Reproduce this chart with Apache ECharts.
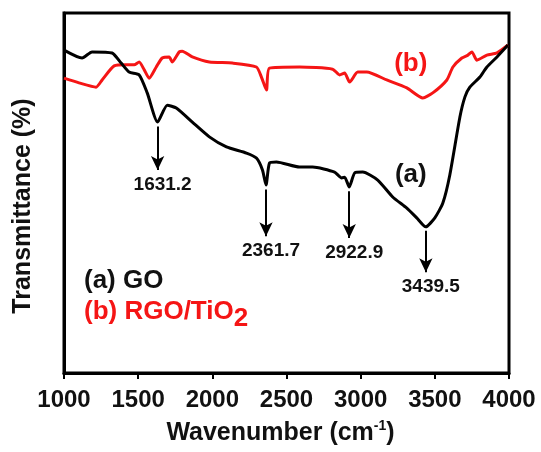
<!DOCTYPE html>
<html>
<head>
<meta charset="utf-8">
<script src="https://cdn.jsdelivr.net/npm/echarts@6/dist/echarts.min.js"></script>
<style>
html,body{margin:0;padding:0;background:#fff;}
#main{width:541px;height:452px;}
</style>
</head>
<body>
<div id="main"></div>
<script>
// wavenumber (cm-1) and transmittance (arb. units)
var goX = [1000,1122,1189,1324,1385,1439,1507,1561,1631,1696,1757,1865,1980,2095,2230,2297,2338,2362,2385,2432,2588,2676,2824,2872,2892,2923,2960,3014,3115,3216,3311,3378,3439,3500,3554,3601,3669,3703,3736,3804,3851,3919,3993];
var goY = [89.7,87.5,89.2,88.9,86.1,83.6,82.8,77.8,69.7,74.4,73.6,69.7,65.6,62.8,61.1,59.7,56.4,52.2,58.3,58.6,57.2,57.2,55.8,54.2,54.4,51.7,55.6,55.8,53.6,48.9,45.8,43.1,40.6,43.1,47.2,55,71.1,76.7,79.4,82.2,85,87.8,91.1];
var rgoX = [1000,1101,1216,1257,1338,1419,1473,1507,1541,1574,1622,1662,1709,1730,1777,1797,1865,1980,2135,2297,2331,2365,2385,2588,2811,2858,2892,2926,2980,3041,3176,3311,3419,3486,3581,3622,3682,3723,3750,3784,3851,3919,3993];
var rgoY = [81.9,80.6,79.4,81.4,85.3,85.6,85.6,86.4,84.2,81.9,85,87.5,87.8,86.4,89.2,89.4,87.8,86.4,86.1,85,82.2,78.6,84.7,85,84.4,82.8,83.3,80.8,83.6,83.6,81.4,79.2,76.4,77.8,81.4,85,87.5,88.3,89.2,86.9,88.3,88.9,91.1];
// marked peaks of GO: arrow start / arrow tip (transmittance)
var peakX = [1631.2, 2361.7, 2922.9, 3439.5];
var peakTop = [68.5, 51, 50.5, 39.5];
var peakTip = [56.4, 38, 37.5, 28];

var red = '#f51515';
var font = 'Liberation Sans';

function pairs(xs, ys){
    var out = [];
    for (var i = 0; i < xs.length; i++) out.push([xs[i], ys[i]]);
    return out;
}

var arrows = [];
for (var i = 0; i < peakX.length; i++) {
    arrows.push([
        {coord: [peakX[i], peakTop[i]], symbol: 'none'},
        {coord: [peakX[i], peakTip[i]], symbol: 'arrow', symbolSize: [10, 14],
         label: {show: true, position: 'end', distance: 5, offset: [5, 0], formatter: peakX[i].toFixed(1)}}
    ]);
}

var chart = echarts.init(document.getElementById('main'));
var option = {
    animation: false,
    grid: {left: 64, right: 32, top: 13, bottom: 79, show: true, borderColor: '#000', borderWidth: 3},
    xAxis: {
        type: 'value', min: 1000, max: 4000, interval: 500,
        axisLine: {lineStyle: {color: '#000', width: 3}},
        axisTick: {show: true, inside: false, length: 6, lineStyle: {color: '#000', width: 2}},
        axisLabel: {color: '#111', fontSize: 24, fontWeight: 'bold', fontFamily: font, margin: 15,
            formatter: function(v){ return String(v); }},
        splitLine: {show: false},
        name: 'Wavenumber (cm{sup|-1})',
        nameLocation: 'middle', nameGap: 46,
        nameTextStyle: {color: '#111', fontSize: 25, fontWeight: 'bold', fontFamily: font, padding: [0, 12, 0, 0],
            rich: {sup: {fontSize: 14, fontWeight: 'bold', fontFamily: font, color: '#111', verticalAlign: 'top', padding: [0, 0, 14, 0]}}}
    },
    yAxis: {
        type: 'value', min: 0, max: 100,
        axisLine: {show: true, lineStyle: {color: '#000', width: 3}},
        axisTick: {show: false},
        axisLabel: {show: false},
        splitLine: {show: false},
        name: 'Transmittance (%)',
        nameLocation: 'middle', nameGap: 28,
        nameTextStyle: {color: '#111', fontSize: 25, fontWeight: 'bold', fontFamily: font, padding: [0, 26, 0, 0]}
    },
    series: [
        {
            name: '(a) GO', type: 'line', data: pairs(goX, goY), showSymbol: false, smooth: 0.2,
            lineStyle: {color: '#000', width: 3}, itemStyle: {color: '#000'}, z: 3,
            markLine: {
                silent: true, symbol: ['none', 'arrow'],
                lineStyle: {color: '#000', width: 2, type: 'solid'},
                label: {color: '#111', fontSize: 19, fontWeight: 'bold', fontFamily: font},
                data: arrows
            },
            markPoint: {
                symbol: 'rect', symbolSize: 1, itemStyle: {color: 'transparent'},
                label: {show: true, position: 'inside', color: '#111', fontSize: 26, fontWeight: 'bold', fontFamily: font, formatter: '(a)'},
                data: [{coord: [3338, 55]}]
            }
        },
        {
            name: '(b) RGO/TiO2', type: 'line', data: pairs(rgoX, rgoY), showSymbol: false, smooth: 0.2,
            lineStyle: {color: red, width: 3}, itemStyle: {color: red}, z: 2,
            markPoint: {
                symbol: 'rect', symbolSize: 1, itemStyle: {color: 'transparent'},
                label: {show: true, position: 'inside', color: red, fontSize: 26, fontWeight: 'bold', fontFamily: font, formatter: '(b)'},
                data: [{coord: [3338, 86]}]
            }
        }
    ],
    graphic: [
        {type: 'text', left: 84, top: 268, style: {text: '(a) GO', fill: '#111', font: 'bold 26px "Liberation Sans"'}},
        {type: 'text', left: 84, top: 299, style: {text: '(b) RGO/TiO{sub|2}', fill: red, font: 'bold 26px "Liberation Sans"',
            rich: {sub: {fill: red, font: 'bold 26px "Liberation Sans"', padding: [14, 0, 0, 0]}}}}
    ]
};
chart.setOption(option);
</script>
</body>
</html>
